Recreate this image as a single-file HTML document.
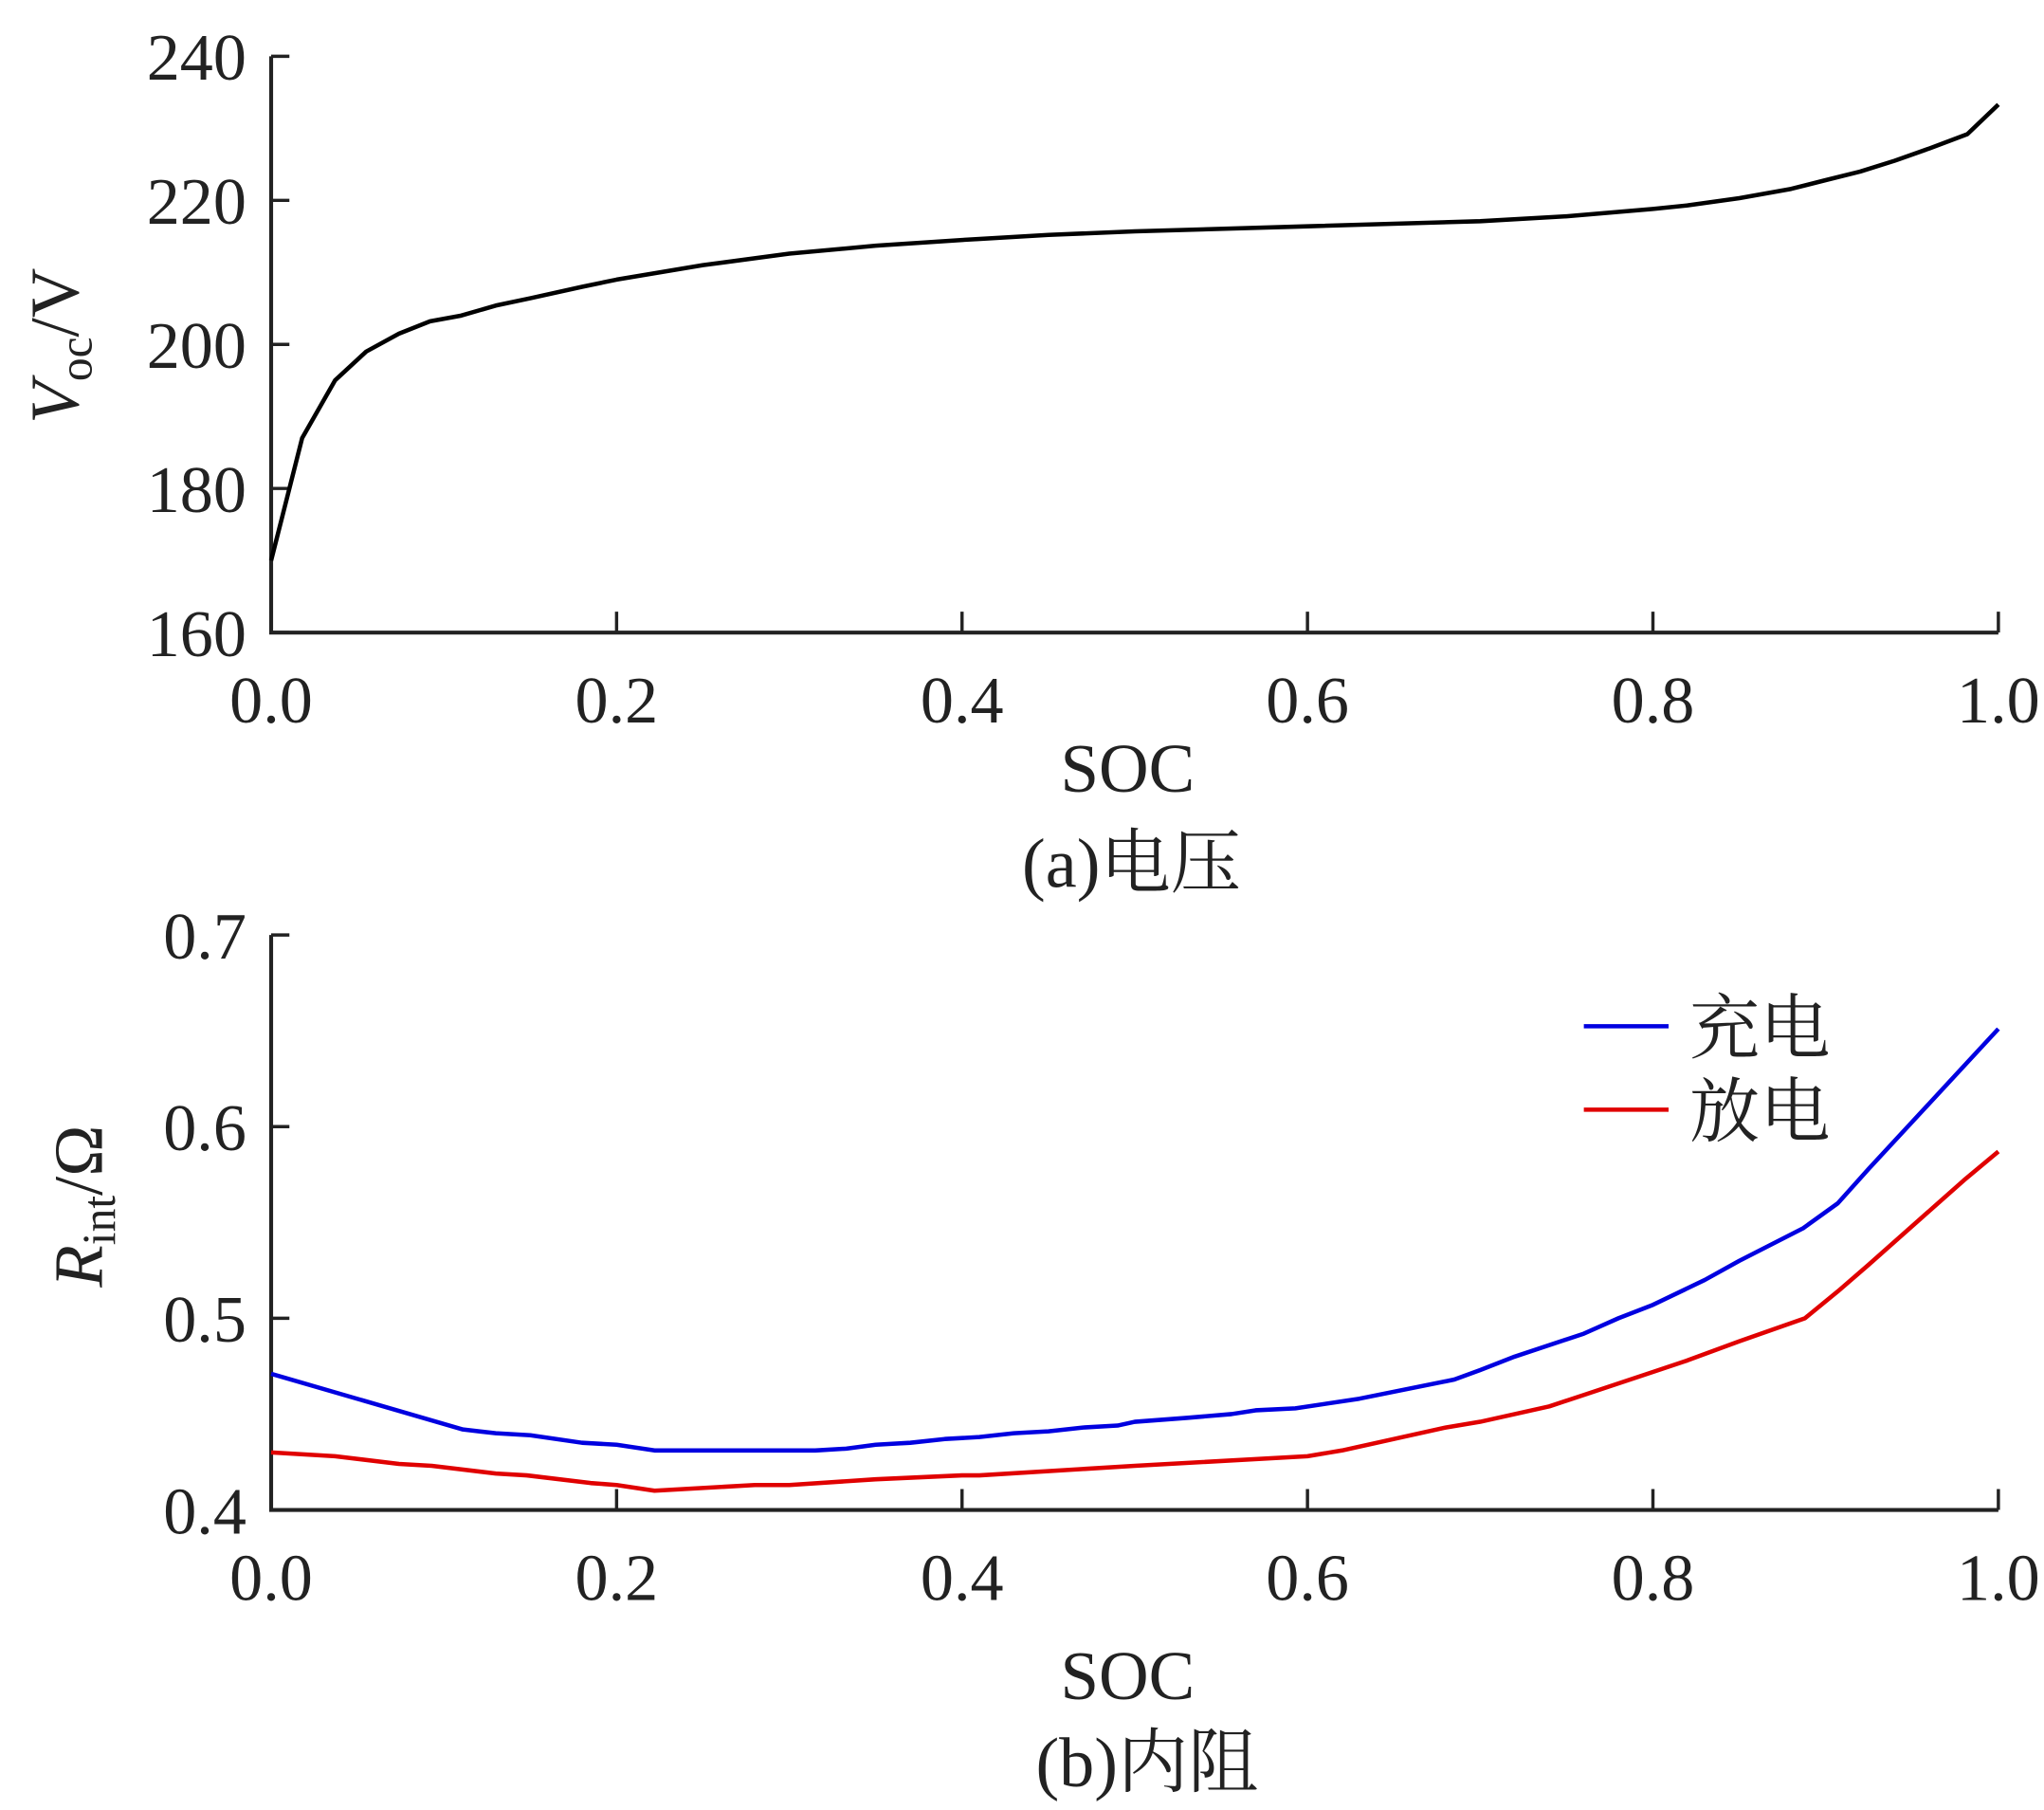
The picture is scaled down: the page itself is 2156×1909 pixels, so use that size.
<!DOCTYPE html>
<html><head><meta charset="utf-8"><style>
html,body{margin:0;padding:0;background:#fff}
svg{display:block}
text{font-family:"Liberation Serif","Noto Serif CJK SC","Noto Sans CJK SC",serif;fill:#222}
</style></head><body>
<svg id="fig" width="2156" height="1909" viewBox="0 0 1568 1388">
<g id="pa"></g>
<g id="pb"></g>
</svg>
<script>
const socA=[0,0.018,0.037,0.055,0.074,0.092,0.11,0.13,0.15,0.18,0.2,0.25,0.3,0.35,0.4,0.45,0.5,0.6,0.7,0.75,0.8,0.82,0.85,0.88,0.9,0.92,0.94,0.96,0.982,1.0];
const voltage=[170,187,195,199,201.5,203.2,204,205.4,206.4,208,209,211,212.6,213.7,214.5,215.2,215.7,216.4,217.1,217.8,218.8,219.3,220.3,221.6,222.8,224,225.5,227.2,229.2,233.3];
const socCharge=[0,0.111,0.13,0.15,0.18,0.2,0.222,0.3,0.315,0.333,0.35,0.37,0.39,0.41,0.43,0.45,0.47,0.49,0.5,0.53,0.556,0.57,0.593,0.63,0.685,0.7,0.72,0.76,0.78,0.8,0.83,0.85,0.887,0.907,0.925,1.0];
const rCharge=[0.471,0.442,0.44,0.439,0.435,0.434,0.431,0.431,0.431,0.432,0.434,0.435,0.437,0.438,0.44,0.441,0.443,0.444,0.446,0.448,0.45,0.452,0.453,0.458,0.468,0.473,0.48,0.492,0.5,0.507,0.52,0.53,0.547,0.56,0.578,0.651];
const socDis=[0,0.037,0.074,0.093,0.13,0.148,0.185,0.2,0.222,0.28,0.3,0.35,0.4,0.41,0.5,0.6,0.62,0.65,0.68,0.7,0.74,0.76,0.8,0.82,0.85,0.888,0.907,0.925,0.98,1.0];
const rDis=[0.43,0.428,0.424,0.423,0.419,0.418,0.414,0.413,0.41,0.413,0.413,0.416,0.418,0.418,0.423,0.428,0.431,0.437,0.443,0.446,0.454,0.46,0.472,0.478,0.488,0.5,0.514,0.528,0.572,0.587];
const xTicks=["0.0","0.2","0.4","0.6","0.8","1.0"];
const yTicksA=["160","180","200","220","240"];
const yTicksB=["0.4","0.5","0.6","0.7"];
const NS="http://www.w3.org/2000/svg";
function mk(p,t,a,txt){const e=document.createElementNS(NS,t);for(const k in a)e.setAttribute(k,a[k]);if(txt!==undefined)e.textContent=txt;p.appendChild(e);return e;}
const X0=208,X1=1533;
const sx=v=>X0+(X1-X0)*v;
function panel(g,yTop,yBot,ymin,ymax,yt){
  const sy=v=>yBot-(v-ymin)/(ymax-ymin)*(yBot-yTop);
  const ax=mk(g,'path',{d:`M${X0} ${yTop}V${yBot}H${X1}`,stroke:'#222','stroke-width':3,fill:'none'});
  
  xTicks.forEach(t=>{const x=sx(+t);
    const l=mk(g,'line',{x1:x,x2:x,y1:yBot,y2:yBot-16,stroke:'#222','stroke-width':2.5});
    
    const tx=mk(g,'text',{x:x,y:yBot+69,'font-size':51,'text-anchor':'middle'},t);
    });
  yt.forEach(t=>{const y=sy(+t);
    const l=mk(g,'line',{x1:X0,x2:X0+14,y1:y,y2:y,stroke:'#222','stroke-width':2.5});
    
    const tx=mk(g,'text',{x:189,y:y+18,'font-size':51,'text-anchor':'end'},t);
    });
  return sy;
}
function line(g,xs,ys,sy,col,name){
  const d=xs.map((v,i)=>(i?'L':'M')+sx(v).toFixed(1)+' '+sy(ys[i]).toFixed(1)).join('');
  const p=mk(g,'path',{d:d,stroke:col,'stroke-width':3.3,fill:'none','stroke-linejoin':'round'});
  
}
const ga=document.getElementById('pa');
const syA=panel(ga,43,485,160,240,yTicksA);
line(ga,socA,voltage,syA,'#000','voltage-line');
let t=mk(ga,'text',{x:865,y:607,'font-size':53,'text-anchor':'middle'},'SOC');

t=mk(ga,'text',{x:868,y:680,'font-size':54,'text-anchor':'middle'},'(a)电压');

t=mk(ga,'text',{transform:'translate(60,265) rotate(-90)','font-size':53,'text-anchor':'middle'});

t.innerHTML='<tspan font-style="italic">V</tspan><tspan font-size="36" dy="10">oc</tspan><tspan dy="-10">/V</tspan>';

const gb=document.getElementById('pb');
const syB=panel(gb,717,1158,0.4,0.7,yTicksB);
line(gb,socCharge,rCharge,syB,'#0000e0','charge-line');
line(gb,socDis,rDis,syB,'#e00000','discharge-line');
t=mk(gb,'text',{x:865,y:1303,'font-size':53,'text-anchor':'middle'},'SOC');

t=mk(gb,'text',{x:880,y:1370,'font-size':54,'text-anchor':'middle'},'(b)内阻');

t=mk(gb,'text',{transform:'translate(78,925) rotate(-90)','font-size':53,'text-anchor':'middle'});

t.innerHTML='<tspan font-style="italic">R</tspan><tspan font-size="36" dy="10">int</tspan><tspan dy="-10">/Ω</tspan>';
[['充电','#0000e0',787],['放电','#e00000',851]].forEach(([lab,col,y])=>{
  const l=mk(gb,'line',{x1:1215,x2:1280,y1:y,y2:y,stroke:col,'stroke-width':3.3});
  
  const tx=mk(gb,'text',{x:1296,y:y+20,'font-size':54},lab);
  
});
</script>
</body></html>
